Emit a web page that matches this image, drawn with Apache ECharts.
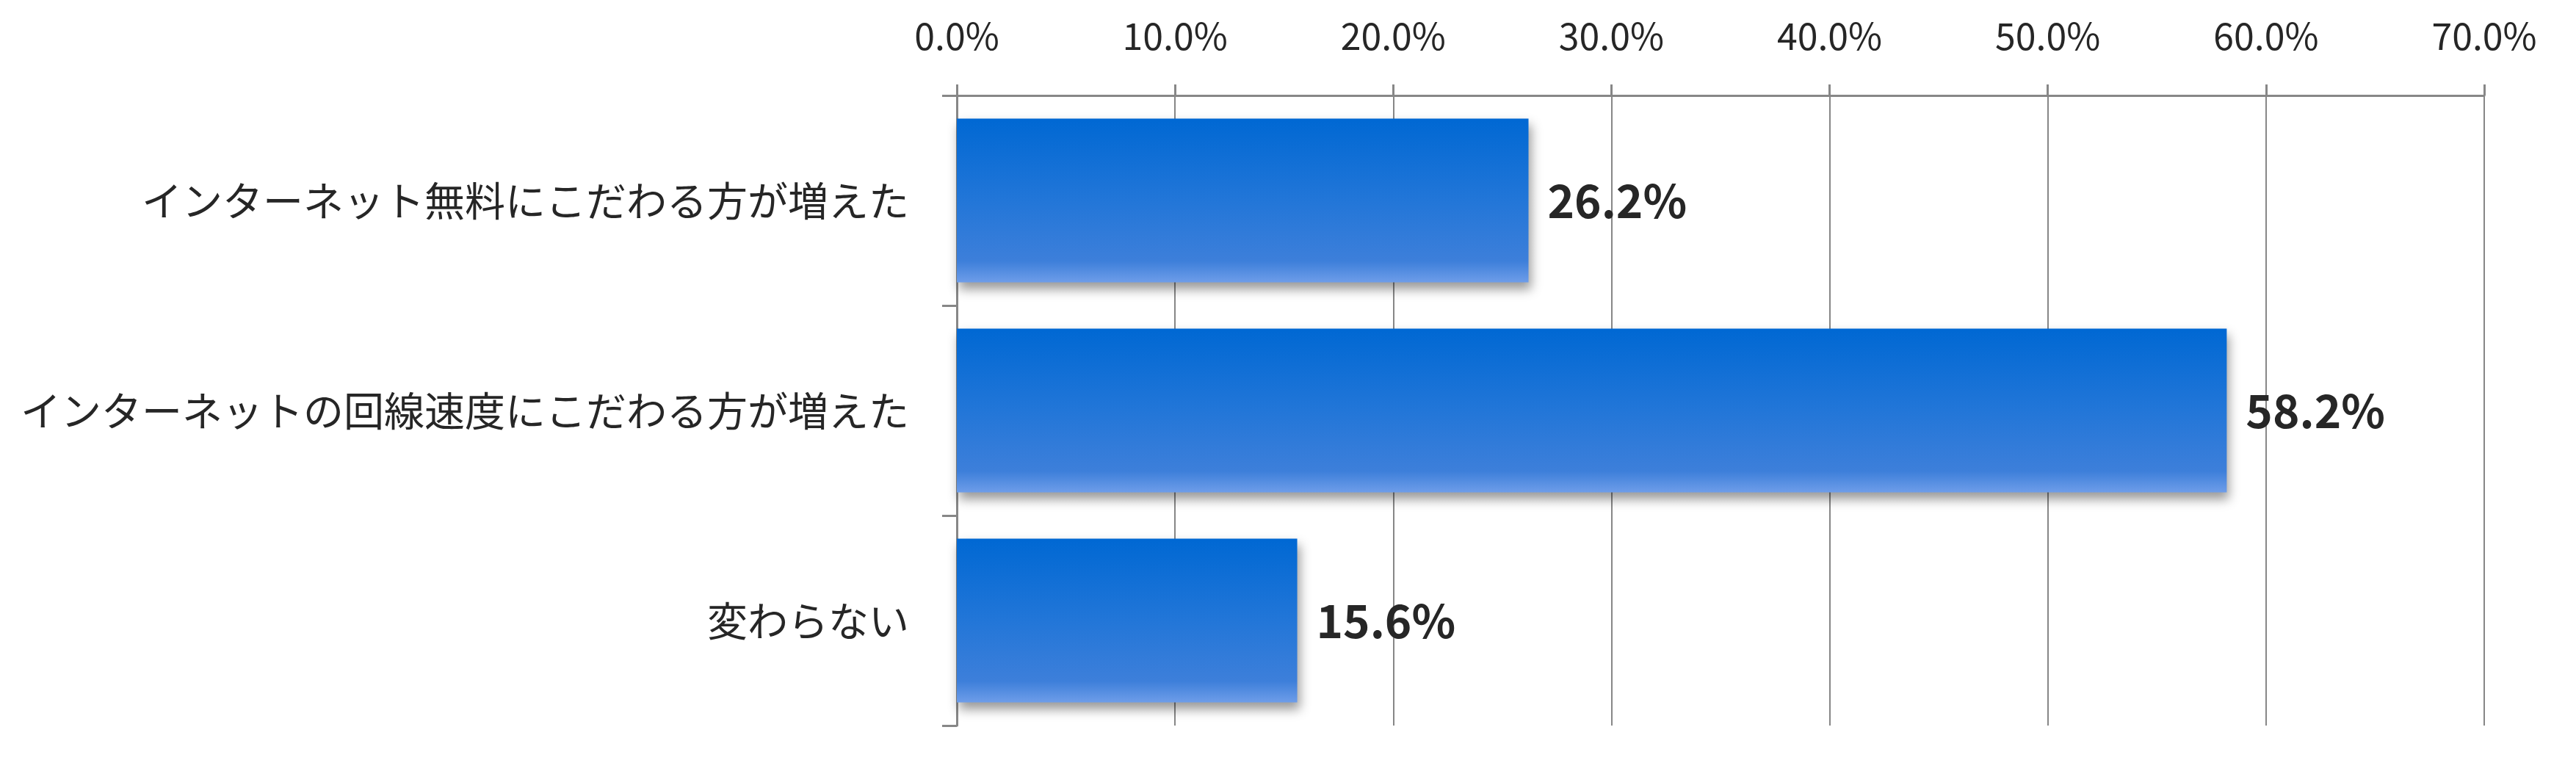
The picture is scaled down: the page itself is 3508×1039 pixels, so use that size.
<!DOCTYPE html>
<html>
<head>
<meta charset="utf-8">
<script src="https://cdn.jsdelivr.net/npm/echarts@6/dist/echarts.min.js"></script>
<style>html,body{margin:0;padding:0;background:#fff;}#c{width:3508px;height:1039px;}</style>
</head>
<body>
<div id="c"></div>
<script>
const categories = ['インターネット無料にこだわる方が増えた', 'インターネットの回線速度にこだわる方が増えた', '変わらない'];
const values = [26.2, 58.2, 15.6];
const axisMin = 0, axisMax = 70, axisStep = 10;

const chart = echarts.init(document.getElementById('c'));
const font = '"Noto Sans CJK JP", "Noto Sans", sans-serif';
chart.setOption({
  backgroundColor: '#ffffff',
  animation: false,
  grid: { left: 1303, right: 125, top: 130, bottom: 51 },
  xAxis: {
    type: 'value', position: 'top', min: axisMin, max: axisMax, interval: axisStep,
    axisLine: { show: true, lineStyle: { color: '#878787', width: 3 } },
    axisTick: { show: true, length: 15, lineStyle: { color: '#878787', width: 3 } },
    splitLine: { show: true, lineStyle: { color: '#878787', width: 2 } },
    axisLabel: { fontFamily: font, fontSize: 50, color: '#262626', margin: 56,
      formatter: v => v.toFixed(1) + '%' }
  },
  yAxis: {
    type: 'category', data: categories, inverse: true,
    axisLine: { show: true, lineStyle: { color: '#878787', width: 3 } },
    axisTick: { show: true, length: 20, lineStyle: { color: '#878787', width: 3 } },
    axisLabel: { fontFamily: font, fontSize: 55, color: '#262626', margin: 65 }
  },
  series: [{
    type: 'bar', data: values, barCategoryGap: '22%',
    itemStyle: {
      color: new echarts.graphic.LinearGradient(0, 0, 0, 1, [
        { offset: 0, color: '#0068D3' },
        { offset: 0.5, color: '#2276D8' },
        { offset: 0.87, color: '#3D7FDA' },
        { offset: 1, color: '#6E9DE9' }
      ]),
      shadowColor: 'rgba(0,0,0,0.4)', shadowBlur: 14, shadowOffsetX: 3, shadowOffsetY: 9
    },
    label: { show: true, position: 'right', distance: 26, fontFamily: font, fontSize: 62,
      fontWeight: 'bold', color: '#262626', formatter: p => p.value.toFixed(1) + '%' }
  }]
});
</script>
</body>
</html>
